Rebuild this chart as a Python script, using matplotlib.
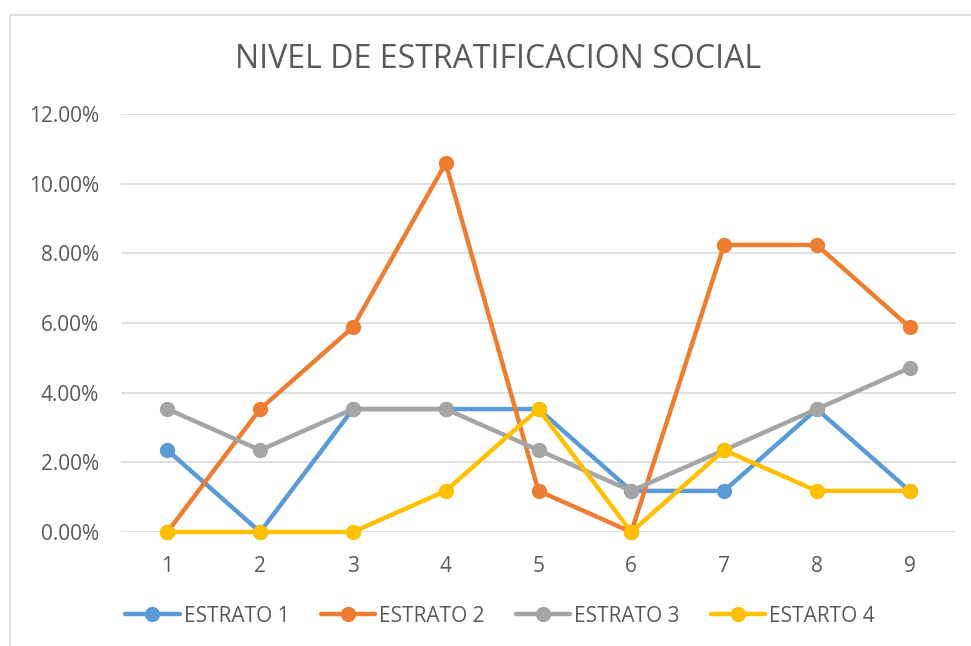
import matplotlib
matplotlib.use("Agg")
import matplotlib.pyplot as plt
from matplotlib.patches import Rectangle
from matplotlib.ticker import PercentFormatter

x_labels = [1, 2, 3, 4, 5, 6, 7, 8, 9]
estrato_1 = [2.35, 0.0, 3.53, 3.53, 3.53, 1.18, 1.18, 3.53, 1.18]
estrato_2 = [0.0, 3.53, 5.88, 10.59, 1.18, 0.0, 8.24, 8.24, 5.88]
estrato_3 = [3.53, 2.35, 3.53, 3.53, 2.35, 1.18, 2.35, 3.53, 4.71]
estarto_4 = [0.0, 0.0, 0.0, 1.18, 3.53, 0.0, 2.35, 1.18, 1.18]
series_names = ["ESTRATO 1", "ESTRATO 2", "ESTRATO 3", "ESTARTO 4"]
colors = ["#5B9BD5", "#ED7D31", "#A5A5A5", "#FFC000"]

text_col = "#595959"
plt.rcParams['font.family'] = ['Open Sans', 'DejaVu Sans']

fig = plt.figure(figsize=(9.71, 6.46), dpi=100)
fig.patches.append(Rectangle((10 / 971, -0.1), 1.2, (646 - 15) / 646 + 0.1,
                             transform=fig.transFigure, fill=False,
                             edgecolor="#D9D9D9", linewidth=1.2))
ax = fig.add_axes([121 / 971, 114 / 646, 835 / 971, 418 / 646])

for vals, name, c in zip([estrato_1, estrato_2, estrato_3, estarto_4], series_names, colors):
    ax.plot(x_labels, [v / 100 for v in vals], color=c, linewidth=3.2, marker='o',
            markersize=10, label=name, solid_capstyle='round', zorder=3,
            clip_on=False)

ax.set_xlim(0.5, 9.5)
ax.set_ylim(0, 0.12)
ax.set_yticks([0, 0.02, 0.04, 0.06, 0.08, 0.10, 0.12])
ax.yaxis.set_major_formatter(PercentFormatter(1.0, decimals=2))
ax.set_xticks(x_labels)
ax.grid(axis='y', color="#D9D9D9", linewidth=1.2)
ax.set_axisbelow(True)
for s in ax.spines.values():
    s.set_visible(False)
ax.tick_params(length=0, colors=text_col, labelsize=15)
ax.tick_params(axis='x', pad=17)
ax.tick_params(axis='y', pad=16)

fig.suptitle("NIVEL DE ESTRATIFICACION SOCIAL", x=498 / 971, y=1 - 60 / 646,
             va='center', fontsize=23, color=text_col)

fig.legend(loc='center', bbox_to_anchor=(500 / 971, 1 - 616 / 646), ncol=4,
           frameon=False, fontsize=15, labelcolor=text_col, handlelength=2.6,
           handletextpad=0.2, columnspacing=1.5)

fig.savefig("out.png", dpi=100)
